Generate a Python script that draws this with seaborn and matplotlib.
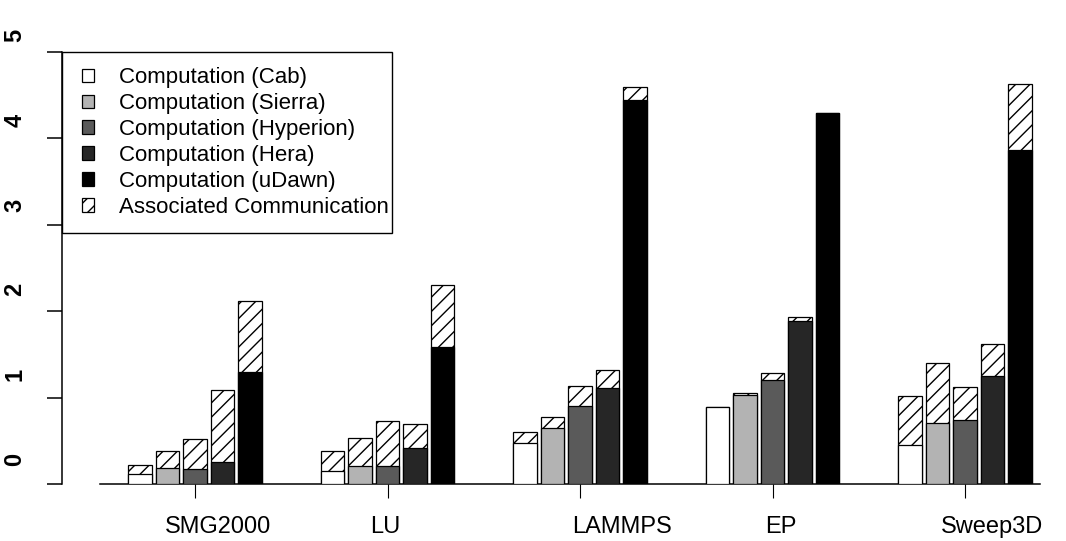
import numpy as np
import pandas as pd
import matplotlib
matplotlib.use("Agg")
import matplotlib.pyplot as plt
import matplotlib.transforms as mtrans
import matplotlib.path as mpath
from matplotlib.patches import Patch, Rectangle
import seaborn as sns

# ---- data ----
benchmarks = ["SMG2000", "LU", "LAMMPS", "EP", "Sweep3D"]
machines = ["Cab", "Sierra", "Hyperion", "Hera", "uDawn"]
# computation time per machine (rows = benchmark, cols = machine)
computation = [
    [0.11, 0.19, 0.17, 0.26, 1.30],
    [0.15, 0.21, 0.21, 0.42, 1.59],
    [0.48, 0.65, 0.90, 1.11, 4.44],
    [0.89, 1.035, 1.20, 1.89, 4.29],
    [0.45, 0.71, 0.74, 1.25, 3.865],
]
# associated communication stacked on top
communication = [
    [0.11, 0.195, 0.35, 0.83, 0.82],
    [0.23, 0.32, 0.52, 0.28, 0.71],
    [0.12, 0.13, 0.23, 0.21, 0.16],
    [0.00, 0.015, 0.08, 0.04, 0.00],
    [0.57, 0.69, 0.38, 0.375, 0.765],
]
y_tick_values = [0, 1, 2, 3, 4, 5]
y_tick_labels = ["0", "1", "2", "3", "4", "5"]

legend_labels = ["Computation (Cab)", "Computation (Sierra)", "Computation (Hyperion)",
                 "Computation (Hera)", "Computation (uDawn)", "Associated Communication"]
machine_colors = ["#ffffff", "#b3b3b3", "#5a5a5a", "#262626", "#000000"]

# slightly denser hatch lines (about 7 px apart)
_orig_hatch = mpath.Path.hatch
def _hatch(hatchpattern, density=6):
    return _orig_hatch(hatchpattern, 7)
mpath.Path.hatch = staticmethod(_hatch)

# ---- table ----
group_step = 7
rows = []
for g, b in enumerate(benchmarks):
    for i, m in enumerate(machines):
        c = computation[g][i]
        rows.append(dict(bench=b, machine=m, pos=g * group_step + (i - 2),
                         comp=c, total=c + communication[g][i]))
df = pd.DataFrame(rows)

sns.set_theme(style="white")
plt.rcParams["font.family"] = ["Liberation Sans", "DejaVu Sans"]
plt.rcParams["text.color"] = "black"
plt.rcParams["hatch.linewidth"] = 1.0
plt.rcParams["hatch.color"] = "black"

W, H = 1066, 541
fig = plt.figure(figsize=(W / 100, H / 100), dpi=100)
ax_left, ax_right, ax_top, ax_bot = 62, 1050, 52, 484
ax = fig.add_axes([ax_left / W, 1 - ax_bot / H, (ax_right - ax_left) / W, (ax_bot - ax_top) / H])

px_per_unit = 27.5
x0_px = 195
ax.set_xlim((ax_left - x0_px) / px_per_unit, (ax_right - x0_px) / px_per_unit)
ax.set_ylim(0, 5)

# communication (full stack height, hatched)
sns.barplot(data=df, x="pos", y="total", native_scale=True, width=0.86,
            color="white", edgecolor="black", linewidth=0.9, hatch="//",
            errorbar=None, ax=ax, zorder=2)
# computation on top of it
sns.barplot(data=df, x="pos", y="comp", hue="machine", hue_order=machines,
            palette=machine_colors, native_scale=True, width=0.86, dodge=False,
            edgecolor="black", linewidth=0.9, errorbar=None, legend=False,
            ax=ax, zorder=3)

ax.set_xlabel("")
ax.set_ylabel("")

# spines
for s in ["top", "right"]:
    ax.spines[s].set_visible(False)
ax.spines["left"].set_bounds(0, 5)
ax.spines["left"].set_linewidth(1.1)
ax.spines["left"].set_color("black")
ax.spines["bottom"].set_position(("data", 0))
ax.spines["bottom"].set_bounds((100 - x0_px) / px_per_unit, (1040 - x0_px) / px_per_unit)
ax.spines["bottom"].set_linewidth(1.1)
ax.spines["bottom"].set_color("black")
ax.spines["bottom"].set_zorder(1)

# y ticks (marks only) + labels placed as in the reference
ax.set_yticks(y_tick_values)
ax.set_yticklabels([])
ax.tick_params(axis="y", direction="out", length=11, width=1.1, color="black", left=True)
label_step = 0.98
label_off = 0.29
ytrans = mtrans.blended_transform_factory(fig.transFigure, ax.transData)
for v, t in zip(y_tick_values, y_tick_labels):
    fig.text(15 / W, v * label_step + label_off, t, transform=ytrans, rotation=90,
             ha="center", va="center", fontsize=17, fontweight="bold", color="black")

# x ticks at group centres
centers = [g * group_step for g in range(len(benchmarks))]
ax.set_xticks(centers)
ax.set_xticklabels([])
ax.tick_params(axis="x", direction="out", length=10, width=0.8, color="black", bottom=True)
label_px = [218, 385, 622, 781, 992]
xtrans = mtrans.blended_transform_factory(ax.transData, fig.transFigure)
for b, lp in zip(benchmarks, label_px):
    ax.text((lp - x0_px) / px_per_unit, 1 - 527 / H, b, transform=xtrans,
            ha="center", va="center", fontsize=17, color="black")

# legend box
fig.patches.append(Rectangle((62 / W, 1 - 233 / H), (392 - 62) / W, (233 - 52) / H,
                             transform=fig.transFigure, facecolor="white",
                             edgecolor="black", linewidth=1.0, zorder=5))
handles = [Patch(facecolor=c, edgecolor="black", linewidth=0.9) for c in machine_colors]
handles.append(Patch(facecolor="white", edgecolor="black", linewidth=0.9, hatch="//"))
leg = fig.legend(handles, legend_labels, loc="center left",
                 bbox_to_anchor=(82 / W, 1 - 142.5 / H), bbox_transform=fig.transFigure,
                 frameon=False, fontsize=16, handlelength=0.55, handleheight=0.55,
                 handletextpad=1.1, labelspacing=0.22, borderpad=0, borderaxespad=0,
                 labelcolor="black")
leg.set_zorder(6)

fig.savefig("out.png", dpi=100)
